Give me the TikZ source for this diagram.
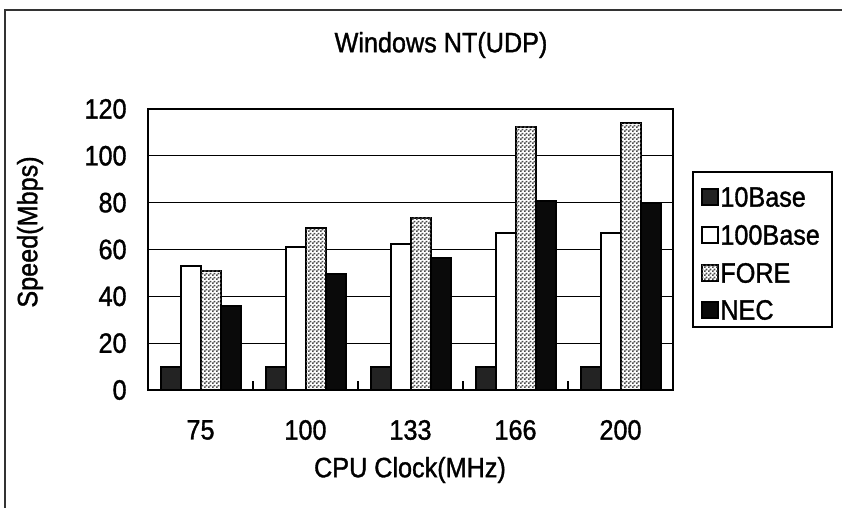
\documentclass[tikz,border=0pt]{standalone}
\usepackage{fontspec}
\setmainfont[FakeStretch=0.9, FakeBold=1.2]{Liberation Sans}
\usetikzlibrary{patterns}
\definecolor{D}{RGB}{35, 35, 35}
\definecolor{K}{RGB}{10, 10, 10}
\pgfdeclarepatternformonly{fine checks}{\pgfpointorigin}{\pgfqpoint{2pt}{2pt}}{\pgfqpoint{2pt}{2pt}}{%
  \pgfpathrectangle{\pgfpointorigin}{\pgfqpoint{1pt}{1pt}}%
  \pgfpathrectangle{\pgfqpoint{1pt}{1pt}}{\pgfqpoint{1pt}{1pt}}%
  \pgfusepath{fill}}
\tikzset{
  lbl/.style={inner sep=0pt, font=\fontsize{14}{16}\selectfont},
  ten/.style={draw=black, line width=1pt, fill=D},
  hund/.style={draw=black, line width=1pt, fill=white},
  fore/.style={draw=black, line width=1pt, fill=white, postaction={pattern=fine checks, pattern color=black!70}},
  nec/.style={draw=black, line width=1pt, fill=K},
  grid line/.style={line width=0.6pt}
}

\begin{document}
\begin{tikzpicture}[x=0.5pt,y=0.5pt]
  \useasboundingbox (0,0) rectangle (842,508);
  \draw[line width=0.6pt, black!80] (5,0) -- (5,498) -- (842,498);

  \node[lbl] (title) at (441,463) {Windows NT(UDP)};

\begin{scope}[shift={(148,118)}, y=1.171pt]
  \draw[grid line] (0,20) -- (525,20);
  \draw[grid line] (0,40) -- (525,40);
  \draw[grid line] (0,60) -- (525,60);
  \draw[grid line] (0,80) -- (525,80);
  \draw[grid line] (0,100) -- (525,100);

  % 75
  \draw[ten] (13,0) rectangle (33,10);
  \draw[hund] (33,0) rectangle (53,53);
  \draw[fore] (53,0) rectangle (73,51);
  \draw[nec] (73,0) rectangle (93,36);
  % 100
  \draw[ten] (118,0) rectangle (138,10);
  \draw[hund] (138,0) rectangle (158,61);
  \draw[fore] (158,0) rectangle (178,69);
  \draw[nec] (178,0) rectangle (198,49.5);
  % 133
  \draw[ten] (223,0) rectangle (243,10);
  \draw[hund] (243,0) rectangle (263,62.5);
  \draw[fore] (263,0) rectangle (283,73.5);
  \draw[nec] (283,0) rectangle (303,56.5);
  % 166
  \draw[ten] (328,0) rectangle (348,10);
  \draw[hund] (348,0) rectangle (368,67);
  \draw[fore] (368,0) rectangle (388,112.5);
  \draw[nec] (388,0) rectangle (408,80.5);
  % 200
  \draw[ten] (433,0) rectangle (453,10);
  \draw[hund] (453,0) rectangle (473,67);
  \draw[fore] (473,0) rectangle (493,114);
  \draw[nec] (493,0) rectangle (513,80);

  \draw[grid line] (0,0) rectangle (525,120);
  \draw[grid line] (105,0) -- (105,3.8);
  \draw[grid line] (210,0) -- (210,3.8);
  \draw[grid line] (315,0) -- (315,3.8);
  \draw[grid line] (420,0) -- (420,3.8);

  \node[lbl, anchor=east] (y0) at (-21,0) {0};
  \node[lbl, anchor=east] (y20) at (-21,20) {20};
  \node[lbl, anchor=east] (y40) at (-21,40) {40};
  \node[lbl, anchor=east] (y60) at (-21,60) {60};
  \node[lbl, anchor=east] (y80) at (-21,80) {80};
  \node[lbl, anchor=east] (y100) at (-21,100) {100};
  \node[lbl, anchor=east] (y120) at (-21,120) {120};
\end{scope}

  \node[lbl] (x75) at (200.5,78) {75};
  \node[lbl] (x100) at (305.5,78) {100};
  \node[lbl] (x133) at (410.5,78) {133};
  \node[lbl] (x166) at (515.5,78) {166};
  \node[lbl] (x200) at (620.5,78) {200};

  \node[lbl] (xtitle) at (410,38) {CPU Clock(MHz)};
  \node[lbl, rotate=90] (ytitle) at (30,276) {Speed(Mbps)};

  % legend
  \draw[line width=0.6pt] (693,181) rectangle (832,336);
  \draw[ten, line width=0.6pt] (702,303) rectangle (718,319);
  \node[lbl, anchor=west] (l10) at (720,311) {10Base};
  \draw[hund, line width=0.6pt] (702,265) rectangle (718,281);
  \node[lbl, anchor=west] (l100) at (720,273) {100Base};
  \draw[fore, line width=0.6pt] (702,227) rectangle (718,243);
  \node[lbl, anchor=west] (lfore) at (720,235) {FORE};
  \draw[nec, line width=0.6pt] (702,190) rectangle (718,206);
  \node[lbl, anchor=west] (lnec) at (720,198) {NEC};
\end{tikzpicture}
\end{document}
